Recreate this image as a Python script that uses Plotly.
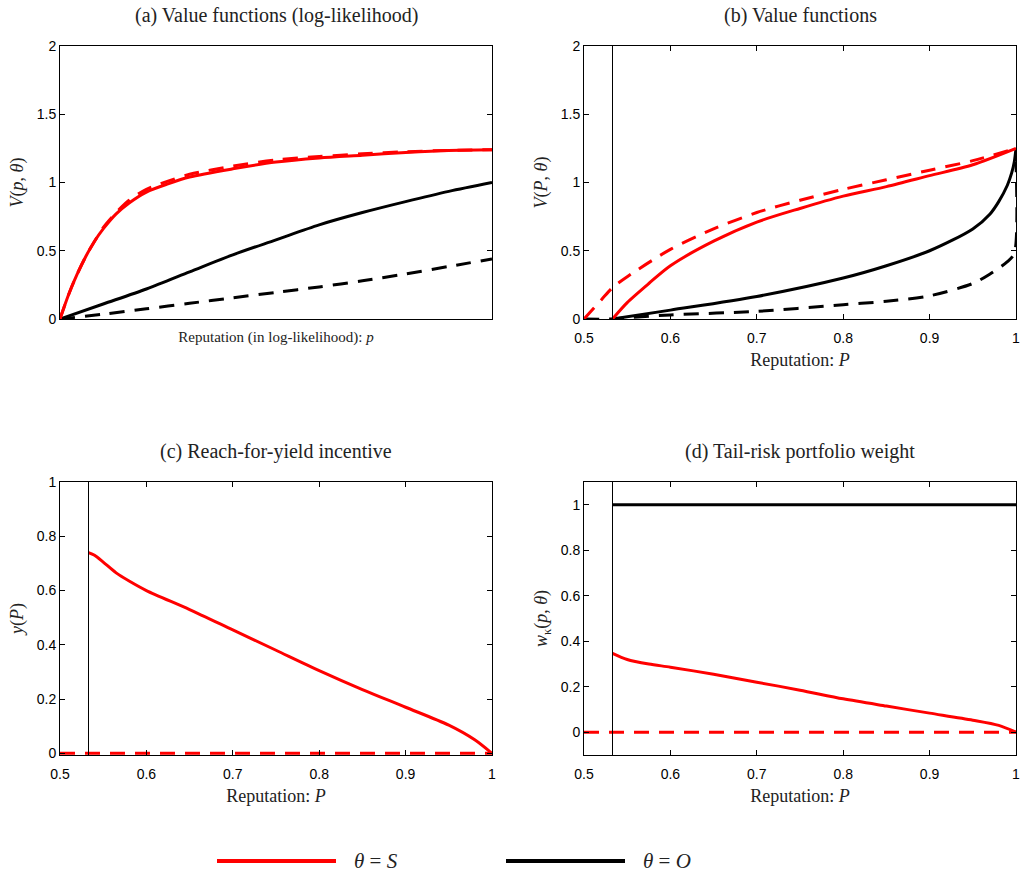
import plotly.graph_objects as go

# ---------------- data ----------------
# Panel (a): log-likelihood reputation (unitless x, 0..1 span)
a_x = [0, 0.02, 0.04, 0.06, 0.08, 0.10, 0.13, 0.16, 0.20, 0.25, 0.30, 0.40, 0.50, 0.60, 0.70, 0.80, 0.90, 1.0]
a_red_solid = [0, 0.18, 0.33, 0.46, 0.57, 0.66, 0.77, 0.85, 0.93, 0.99, 1.04, 1.10, 1.15, 1.18, 1.20, 1.22, 1.235, 1.24]
a_red_dash = [0, 0.18, 0.33, 0.46, 0.57, 0.67, 0.78, 0.87, 0.95, 1.01, 1.06, 1.12, 1.165, 1.19, 1.21, 1.225, 1.235, 1.24]
a_xb = [0, 0.1, 0.2, 0.3, 0.4, 0.5, 0.6, 0.7, 0.8, 0.9, 1.0]
a_black_solid = [0, 0.11, 0.22, 0.345, 0.47, 0.58, 0.69, 0.78, 0.86, 0.935, 1.0]
a_black_dash = [0, 0.035, 0.075, 0.115, 0.155, 0.195, 0.235, 0.28, 0.33, 0.385, 0.44]

# Threshold reputation
P_star = 0.533

# Panel (b): value functions in P
b_red_dash_x = [0.5, 0.52, 0.533, 0.55, 0.6, 0.65, 0.7, 0.75, 0.8, 0.85, 0.9, 0.95, 1.0]
b_red_dash_y = [0, 0.14, 0.23, 0.31, 0.51, 0.66, 0.78, 0.87, 0.95, 1.02, 1.09, 1.16, 1.25]
b_red_solid_x = [0.533, 0.55, 0.575, 0.6, 0.65, 0.7, 0.75, 0.8, 0.85, 0.9, 0.95, 1.0]
b_red_solid_y = [0, 0.12, 0.26, 0.39, 0.57, 0.71, 0.81, 0.90, 0.97, 1.05, 1.13, 1.25]
b_black_solid_x = [0.533, 0.6, 0.7, 0.8, 0.85, 0.9, 0.95, 0.97, 0.98, 0.99, 0.995, 0.998, 1.0]
b_black_solid_y = [0, 0.065, 0.165, 0.30, 0.39, 0.50, 0.66, 0.77, 0.86, 0.98, 1.07, 1.15, 1.25]
b_black_dash_x = [0.5, 0.533, 0.55, 0.6, 0.7, 0.8, 0.85, 0.9, 0.95, 0.97, 0.99, 0.998, 1.0]
b_black_dash_y = [0, 0, 0.01, 0.03, 0.056, 0.105, 0.13, 0.17, 0.26, 0.33, 0.42, 0.48, 1.15]

# Panel (c): reach-for-yield incentive
c_x = [0.533, 0.54, 0.55, 0.565, 0.58, 0.6, 0.65, 0.7, 0.75, 0.8, 0.85, 0.9, 0.95, 0.98, 1.0]
c_red_solid = [0.74, 0.73, 0.705, 0.665, 0.635, 0.60, 0.53, 0.455, 0.38, 0.305, 0.235, 0.17, 0.104, 0.05, 0]
c_dash_x = [0.5, 1.0]
c_red_dash = [0, 0]

# Panel (d): tail-risk portfolio weight
d_x = [0.533, 0.55, 0.575, 0.6, 0.65, 0.7, 0.75, 0.8, 0.85, 0.9, 0.95, 0.98, 1.0]
d_red_solid = [0.347, 0.32, 0.30, 0.286, 0.255, 0.22, 0.185, 0.147, 0.115, 0.084, 0.053, 0.03, 0]
d_black_x = [0.533, 1.0]
d_black_solid = [1, 1]
d_dash_x = [0.5, 1.0]
d_red_dash = [0, 0]

titles = ["(a) Value functions (log-likelihood)", "(b) Value functions",
          "(c) Reach-for-yield incentive", "(d) Tail-risk portfolio weight"]
legend_labels = ["<i>θ</i> = <i>S</i>", "<i>θ</i> = <i>O</i>"]

# ---------------- styling ----------------
RED = "#ff0000"
BLACK = "#000000"
LW = 3
DASH = "15px,10px"
W, H = 1022, 873

def px_x(a, b):
    return [a / W, b / W]

def px_y(top, bottom):
    return [1 - bottom / H, 1 - top / H]

fig = go.Figure()

def line(x, y, color, dash, xa, ya, shape="spline"):
    fig.add_trace(go.Scatter(x=x, y=y, mode="lines", xaxis=xa, yaxis=ya,
                             line=dict(color=color, width=LW, dash=dash, shape=shape, smoothing=0.8),
                             showlegend=False, hoverinfo="skip"))

# (a)
line(a_xb, a_black_dash, BLACK, DASH, "x", "y")
line(a_xb, a_black_solid, BLACK, "solid", "x", "y")
line(a_x, a_red_dash, RED, DASH, "x", "y")
line(a_x, a_red_solid, RED, "solid", "x", "y")
# (b)
line(b_black_dash_x, b_black_dash_y, BLACK, DASH, "x2", "y2")
line(b_black_solid_x, b_black_solid_y, BLACK, "solid", "x2", "y2")
line(b_red_dash_x, b_red_dash_y, RED, DASH, "x2", "y2")
line(b_red_solid_x, b_red_solid_y, RED, "solid", "x2", "y2")
# (c)
line(c_x, c_red_solid, RED, "solid", "x3", "y3")
line(c_dash_x, c_red_dash, RED, DASH, "x3", "y3", shape="linear")
# (d)
line(d_black_x, d_black_solid, BLACK, "solid", "x4", "y4", shape="linear")
line(d_x, d_red_solid, RED, "solid", "x4", "y4")
line(d_dash_x, d_red_dash, RED, DASH, "x4", "y4", shape="linear")

tickfont = dict(family="Liberation Sans, Arial, sans-serif", size=14, color="black")
labfont = dict(family="Liberation Serif, Times New Roman, serif", size=18, color="#222")

def xaxis(domain, anchor, show_ticks=True, title="Reputation: <i>P</i>", tsize=18):
    d = dict(domain=domain, anchor=anchor, showline=True, linecolor="black", linewidth=1,
             mirror="ticks" if show_ticks else True, showgrid=False, zeroline=False,
             automargin=False,
             title=dict(text=title, font=dict(labfont, size=tsize), standoff=8))
    if show_ticks:
        d.update(range=[0.5, 1.0], tickvals=[0.5, 0.6, 0.7, 0.8, 0.9, 1.0],
                 ticktext=["0.5", "0.6", "0.7", "0.8", "0.9", "1"],
                 ticks="inside", ticklen=5, tickcolor="black", tickfont=tickfont,
                 ticklabelstandoff=6)
    else:
        d.update(range=[0, 1], showticklabels=False, ticks="")
        d["title"]["standoff"] = 12
    return d

def yaxis(domain, anchor, rng, vals, title):
    return dict(domain=domain, anchor=anchor, range=rng, tickvals=vals,
                ticktext=[("%g" % v) for v in vals], showline=True, linecolor="black",
                linewidth=1, mirror="ticks", ticks="inside", ticklen=5, tickcolor="black",
                tickfont=tickfont, showgrid=False, zeroline=False, automargin=False,
                title=dict(text=title, font=labfont, standoff=8))

left = px_x(60, 492)
right = px_x(584, 1016)
top = px_y(46, 319)
bot = px_y(482, 755)

fig.update_layout(
    width=W, height=H, margin=dict(l=0, r=0, t=0, b=0, autoexpand=False),
    paper_bgcolor="white", plot_bgcolor="white", showlegend=False,
    xaxis=xaxis(left, "y", show_ticks=False,
                title="Reputation (in log-likelihood): <i>p</i>", tsize=15),
    yaxis=yaxis(top, "x", [0, 2], [0, 0.5, 1, 1.5, 2], "<i>V</i>(<i>p</i>, <i>θ</i>)"),
    xaxis2=xaxis(right, "y2"),
    yaxis2=yaxis(top, "x2", [0, 2], [0, 0.5, 1, 1.5, 2], "<i>V</i>(<i>P</i>, <i>θ</i>)"),
    xaxis3=xaxis(left, "y3"),
    yaxis3=yaxis(bot, "x3", [-0.006, 1], [0, 0.2, 0.4, 0.6, 0.8, 1], "<i>y</i>(<i>P</i>)"),
    xaxis4=xaxis(right, "y4"),
    yaxis4=yaxis(bot, "x4", [-0.1, 1.1], [0, 0.2, 0.4, 0.6, 0.8, 1],
                 "<i>w</i><sub>κ</sub>(<i>p</i>, <i>θ</i>)"),
)

# threshold lines
for xa, ya in [("x2", "y2"), ("x3", "y3"), ("x4", "y4")]:
    fig.add_shape(type="line", xref=xa, yref=ya + " domain", x0=P_star, x1=P_star,
                  y0=0, y1=1, line=dict(color="black", width=1))

# titles
title_font = dict(family="Liberation Serif, Times New Roman, serif", size=20, color="#222")
centers = [(sum(left) / 2, 1 - 15 / H), (sum(right) / 2, 1 - 15 / H),
           (sum(left) / 2, 1 - 451 / H), (sum(right) / 2, 1 - 451 / H)]
for t, (cx, cy) in zip(titles, centers):
    fig.add_annotation(text=t, x=cx, y=cy, xref="paper", yref="paper",
                       showarrow=False, font=title_font, xanchor="center", yanchor="middle")

# legend (drawn manually to match long line samples)
ly = 1 - 861 / H
for (x0, x1, tx), col, lab in zip([(217, 336, 352), (506, 625, 641)], [RED, BLACK], legend_labels):
    fig.add_shape(type="line", xref="paper", yref="paper", x0=x0 / W, x1=x1 / W,
                  y0=ly, y1=ly, line=dict(color=col, width=4))
    fig.add_annotation(text=lab, x=tx / W, y=ly, xref="paper", yref="paper",
                       showarrow=False, xanchor="left", yanchor="middle",
                       font=dict(family="Liberation Serif, Times New Roman, serif", size=21, color="#222"))

fig.write_html("out.html", config={"displayModeBar": False},
               post_script="document.body.style.margin='0';document.body.style.overflow='hidden';")
